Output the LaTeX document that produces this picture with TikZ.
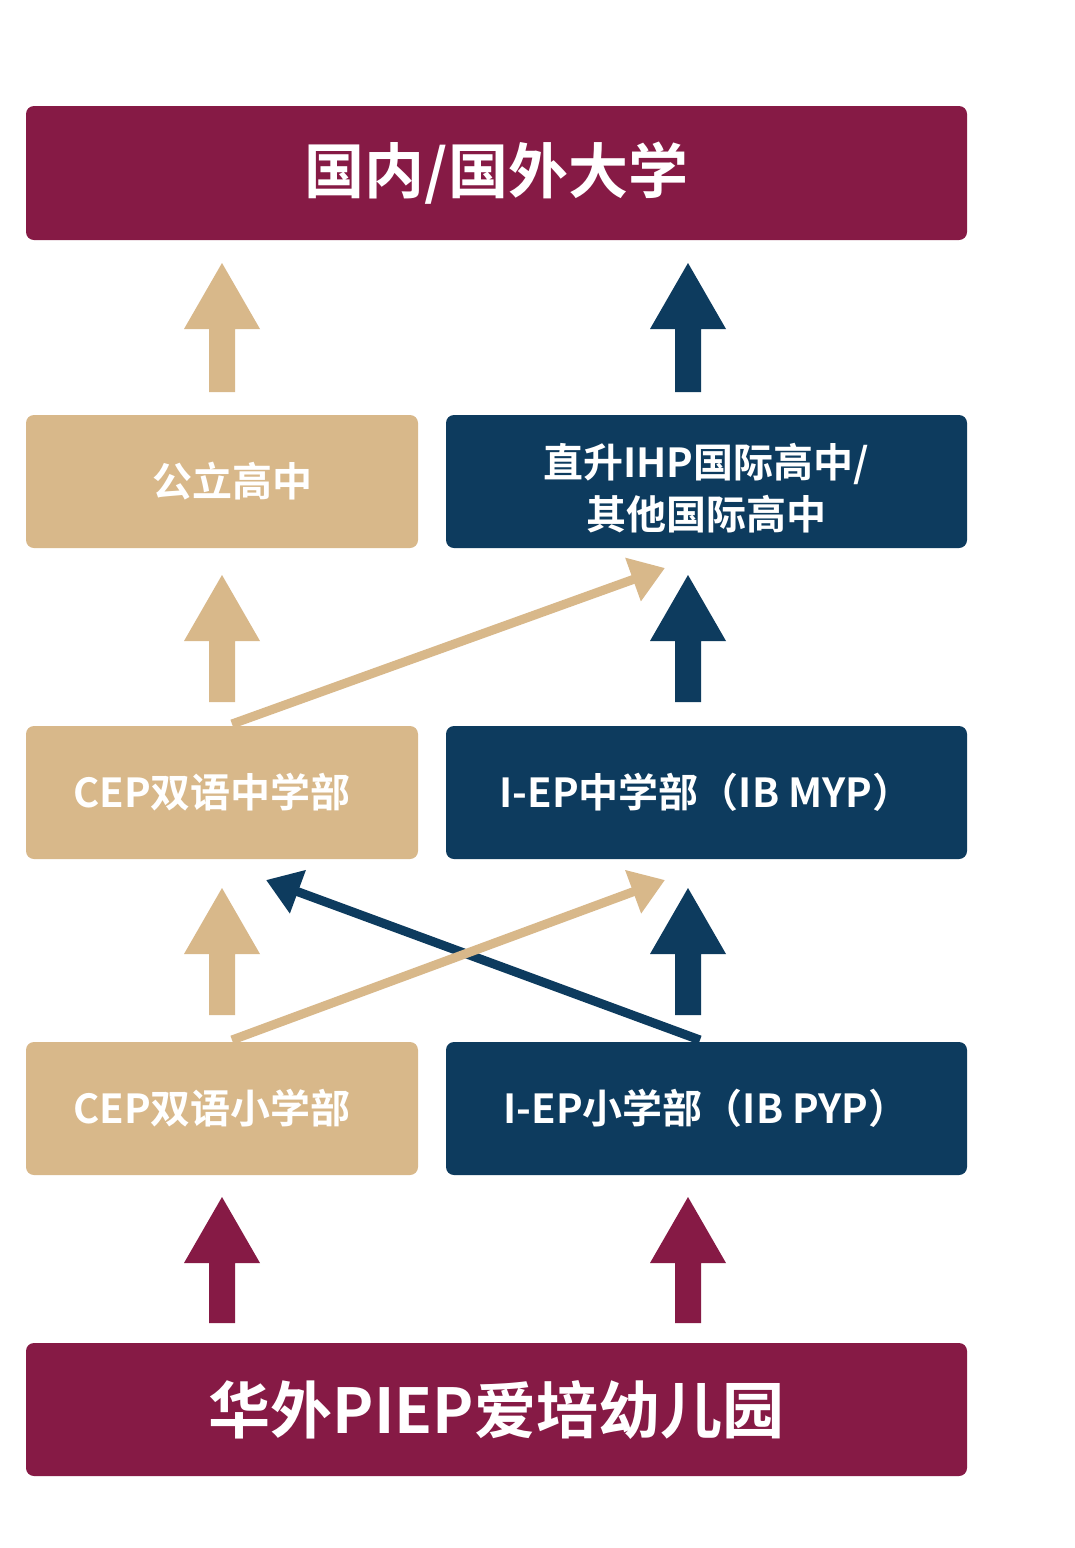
\documentclass[tikz,border=0pt]{standalone}
\usepackage{fontspec}
\setmainfont{Noto Sans CJK SC Bold}
\usetikzlibrary{arrows.meta}
\definecolor{maroon}{HTML}{861A45}
\definecolor{tan}{HTML}{D8B88A}
\definecolor{navy}{HTML}{0D3B5E}
\tikzset{x=1pt,y=-1pt,
 box/.style={rounded corners=8pt,inner sep=0pt,text=white,align=center},
 diag/.style={line width=9pt,-{Triangle[length=34pt,width=44pt]}}}
\newcommand{\uparr}[4]{% x, ytop, ybot, color
 \fill[#4] (#1-13,#3) -- (#1-13,#2+66) -- (#1-38,#2+66) -- (#1,#2) -- (#1+38,#2+66) -- (#1+13,#2+66) -- (#1+13,#3) -- cycle;}
\begin{document}
\begin{tikzpicture}
\useasboundingbox (0,0) rectangle (1074,1548);
\fill[white] (0,0) rectangle (1074,1548);
\fill[maroon,rounded corners=8pt] (26,106) rectangle (967,240);
\node[box,font=\fontsize{60}{66}\selectfont] (top) at (496.5,173) {国内/国外大学};
\fill[tan,rounded corners=8pt] (26,415) rectangle (418,548);
\node[box,font=\fontsize{40}{50}\selectfont] (gl) at (232,481) {公立高中};
\fill[navy,rounded corners=8pt] (446,415) rectangle (967,548);
\node[box,font=\fontsize{40}{52}\selectfont] (ihp) at (706,488) {直升IHP国际高中/\\其他国际高中};
\fill[tan,rounded corners=8pt] (26,726) rectangle (418,859);
\node[box,font=\fontsize{40}{50}\selectfont] (cepm) at (212,792) {CEP双语中学部};
\fill[navy,rounded corners=8pt] (446,726) rectangle (967,859);
\node[box,font=\fontsize{40}{50}\selectfont] (iepm) at (706,792) {I-EP中学部（IB MYP）};
\fill[tan,rounded corners=8pt] (26,1042) rectangle (418,1175);
\node[box,font=\fontsize{40}{50}\selectfont] (cepp) at (212,1108) {CEP双语小学部};
\fill[navy,rounded corners=8pt] (446,1042) rectangle (967,1175);
\node[box,font=\fontsize{40}{50}\selectfont] (iepp) at (706,1108) {I-EP小学部（IB PYP）};
\fill[maroon,rounded corners=8pt] (26,1343) rectangle (967,1476);
\node[box,font=\fontsize{62}{68}\selectfont] (kg) at (496.5,1410) {华外PIEP爱培幼儿园};
\uparr{222}{263}{392}{tan}
\uparr{688}{263}{392}{navy}
\uparr{222}{575}{702}{tan}
\uparr{688}{575}{702}{navy}
\uparr{222}{888}{1015}{tan}
\uparr{688}{888}{1015}{navy}
\uparr{222}{1197}{1323}{maroon}
\uparr{688}{1197}{1323}{maroon}
\coordinate (a1) at (232,724); \coordinate (b1) at (665,568);
\coordinate (a2) at (700,1040); \coordinate (b2) at (266,880);
\coordinate (a3) at (232,1040); \coordinate (b3) at (665,880);
\draw[diag,tan] (a1) -- (b1);
\draw[diag,navy] (a2) -- (b2);
\draw[diag,tan] (a3) -- (b3);
\end{tikzpicture}
\end{document}
